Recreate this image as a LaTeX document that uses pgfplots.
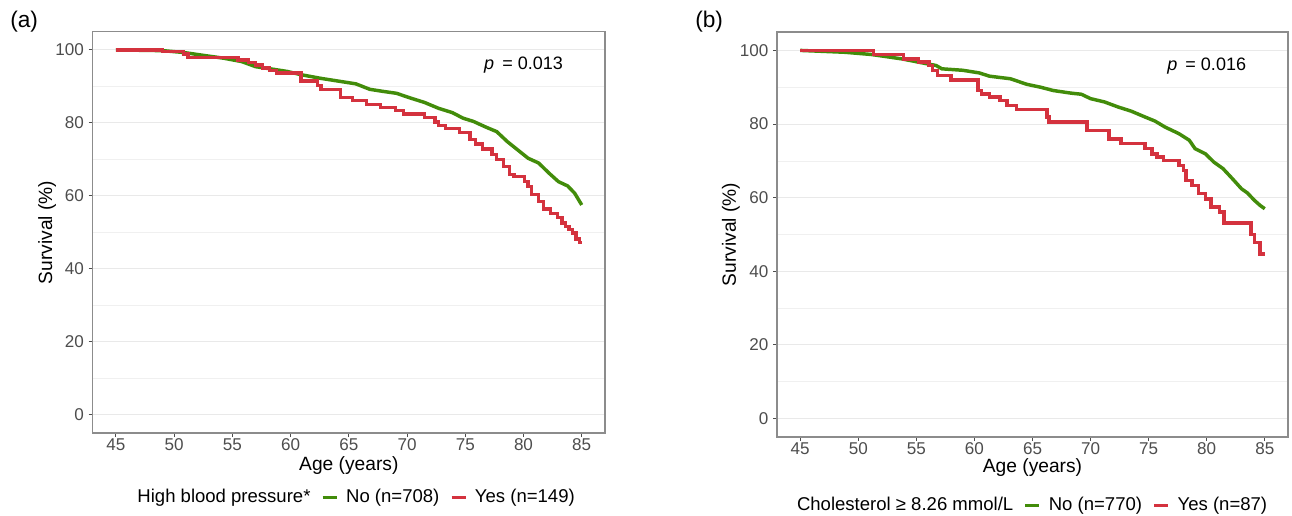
\documentclass[border=0pt]{standalone}
\usepackage{pgfplots}
\pgfplotsset{compat=1.18}
\usepackage{fontspec}
\setmainfont{Liberation Sans}

\definecolor{kmgreen}{RGB}{66,140,10}
\definecolor{kmred}{RGB}{212,50,62}
\definecolor{framec}{RGB}{140,140,140}
\definecolor{gridc}{RGB}{233,233,233}
\definecolor{tickc}{RGB}{77,77,77}

\pgfplotsset{
  km/.style={
    scale only axis,
    xmin=43, xmax=87, ymin=-5, ymax=105,
    xtick={45,50,...,85}, ytick={0,20,...,100},
    minor ytick={10,30,...,90},
    ymajorgrids, yminorgrids,
    major grid style={gridc, line width=0.8pt},
    minor grid style={gridc!70, line width=0.5pt},
    axis line style={framec, line width=0.9pt},
    tick align=outside, xtick pos=left, ytick pos=left,
    major tick length=3pt, minor tick length=0pt,
    tick style={tickc, line width=0.8pt},
    ticklabel style={font=\fontsize{12.8}{14}\selectfont, text=tickc},
    xticklabel style={yshift=2pt},
    /pgf/number format/assume math mode=true,
    label style={font=\fontsize{14.4}{16}\selectfont},
    xlabel={Age (years)}, ylabel={Survival (\%)},
    legend columns=-1,
    legend style={draw=none, fill=none, font=\fontsize{13.9}{16}\selectfont,
      column sep=0pt,
      /tikz/every odd column/.append style={column sep=4pt},
      /tikz/every even column/.append style={column sep=6pt}},
    legend image code/.code={\draw[#1, line width=2.2pt] (0pt,0pt) -- (10.5pt,0pt);},
  },
  noline/.style={kmgreen, line width=2.6pt, sharp plot},
  yesline/.style={kmred, line width=2.6pt, const plot},
}

\begin{document}
\begin{tikzpicture}
\useasboundingbox (0,0) rectangle (969pt,386.25pt);

\node[font=\fontsize{17}{20}\selectfont, anchor=west, inner sep=0pt] at (7.5pt,369.75pt) {(a)};
\node[font=\fontsize{17}{20}\selectfont, anchor=west, inner sep=0pt] at (521.25pt,369.75pt) {(b)};

% (a) high blood pressure
\begin{axis}[km, at={(69.5pt,61.5pt)}, anchor=south west,
    width=384.25pt, height=301pt,
    xlabel style={at={(axis description cs:0.5,-0.08)}, anchor=center},
    ylabel style={at={(axis description cs:-0.089,0.5)}, anchor=center},
    legend style={at={(axis description cs:0.509,-0.16)}, anchor=center}]
  \addlegendimage{empty legend}
  \addlegendentry{High blood pressure*}
  \addplot[noline] coordinates {
    (45,100) (49.0,99.8) (50.8,99.3) (52.3,98.6) (54.3,97.7) (55.8,96.8)
    (57.0,95.4) (58.5,94.7) (59.7,94.1) (60.9,93.2) (62.6,92.2) (64.4,91.3)
    (65.6,90.7) (66.8,89.2) (68.0,88.6) (69.1,88.1) (70.3,86.8) (71.5,85.6)
    (72.7,84.0) (73.9,82.8) (74.8,81.3) (75.7,80.4) (76.8,78.8) (77.7,77.6)
    (78.6,74.9) (79.5,72.6) (80.4,70.3) (81.3,69.0) (82.2,66.2) (83.0,63.9)
    (83.8,62.7) (84.4,60.7) (85.0,57.5)
  };
  \addlegendentry{No (n=708)}
  \addplot[yesline] coordinates {
    (45,100) (49.0,99.5) (50.8,98.9) (51.2,97.9) (55.5,97.2) (56.4,96.5)
    (57.0,95.8) (57.6,95.1) (58.2,94.4) (58.8,93.7) (60.9,91.5) (62.3,90.3)
    (62.6,89.2) (64.3,86.9) (65.3,86.1) (66.5,85.0) (67.7,84.2) (69.0,83.4)
    (69.7,82.4) (71.5,81.5) (72.4,80.3) (72.7,79.3) (73.3,78.5) (74.5,77.3)
    (75.4,75.5) (75.9,74.2) (76.5,72.8) (77.3,71.4) (77.7,70.0) (78.3,68.0)
    (78.8,65.9) (79.2,65.3) (80.1,64.0) (80.4,62.6) (80.7,60.4) (81.3,58.4)
    (81.7,56.4) (82.3,55.2) (82.9,54.0) (83.3,52.6) (83.6,51.6) (83.9,50.8)
    (84.2,49.8) (84.5,48.2) (84.8,47.2) (85.0,47.2)
  };
  \addlegendentry{Yes (n=149)}
  \node[font=\fontsize{13.5}{16}\selectfont] at (axis cs:80,95.8) {\textit{p}\hspace{0.45em}= 0.013};
\end{axis}

% (b) cholesterol
\begin{axis}[km, at={(582.75pt,58.5pt)}, anchor=south west,
    width=383.25pt, height=303.75pt,
    xlabel style={at={(axis description cs:0.5,-0.0765)}, anchor=center},
    ylabel style={at={(axis description cs:-0.09,0.5)}, anchor=center},
    legend style={at={(axis description cs:0.494,-0.168)}, anchor=center}]
  \addlegendimage{empty legend}
  \addlegendentry{Cholesterol ≥ 8.26 mmol/L}
  \addplot[noline] coordinates {
    (45,100) (48.8,99.5) (51.1,98.9) (53.75,97.7) (55.2,96.8) (56.7,95.9)
    (57.2,95.0) (59.0,94.6) (60.4,93.9) (61.3,93.0) (63.1,92.3) (64.5,90.8)
    (65.7,90.0) (66.8,89.1) (68.3,88.4) (69.2,88.1) (70.0,86.9) (71.2,86.0)
    (72.4,84.6) (73.5,83.5) (74.7,81.9) (75.55,80.8) (76.4,79.2) (77.6,77.4)
    (78.5,75.6) (79.0,73.3) (79.9,71.9) (80.6,69.7) (81.4,67.9) (82.2,65.2)
    (83.0,62.4) (83.5,61.3) (84.1,59.3) (84.6,57.9) (85.0,57.0)
  };
  \addlegendentry{No (n=770)}
  \addplot[yesline] coordinates {
    (45,100) (51.3,98.9) (53.9,97.7) (55.2,96.8) (56.1,95.9) (56.4,94.6)
    (56.8,93.2) (58.0,91.9) (60.3,89.1) (60.6,88.2) (61.3,87.3) (62.2,86.4)
    (62.8,85.1) (63.6,83.9) (66.25,81.9) (66.4,80.5) (69.7,78.3) (71.6,76.0)
    (72.6,74.7) (74.7,73.3) (75.3,71.9) (75.7,71.0) (76.3,70.1) (77.6,68.8)
    (78.0,67.4) (78.2,64.7) (78.75,63.3) (79.3,61.1) (79.9,59.7) (80.35,57.5)
    (81.1,56.1) (81.5,53.1) (83.8,50.0) (84.1,47.8) (84.6,44.7) (85.0,44.7)
  };
  \addlegendentry{Yes (n=87)}
  \node[font=\fontsize{13.5}{16}\selectfont] at (axis cs:80,95.8) {\textit{p}\hspace{0.45em}= 0.016};
\end{axis}
\end{tikzpicture}
\end{document}
